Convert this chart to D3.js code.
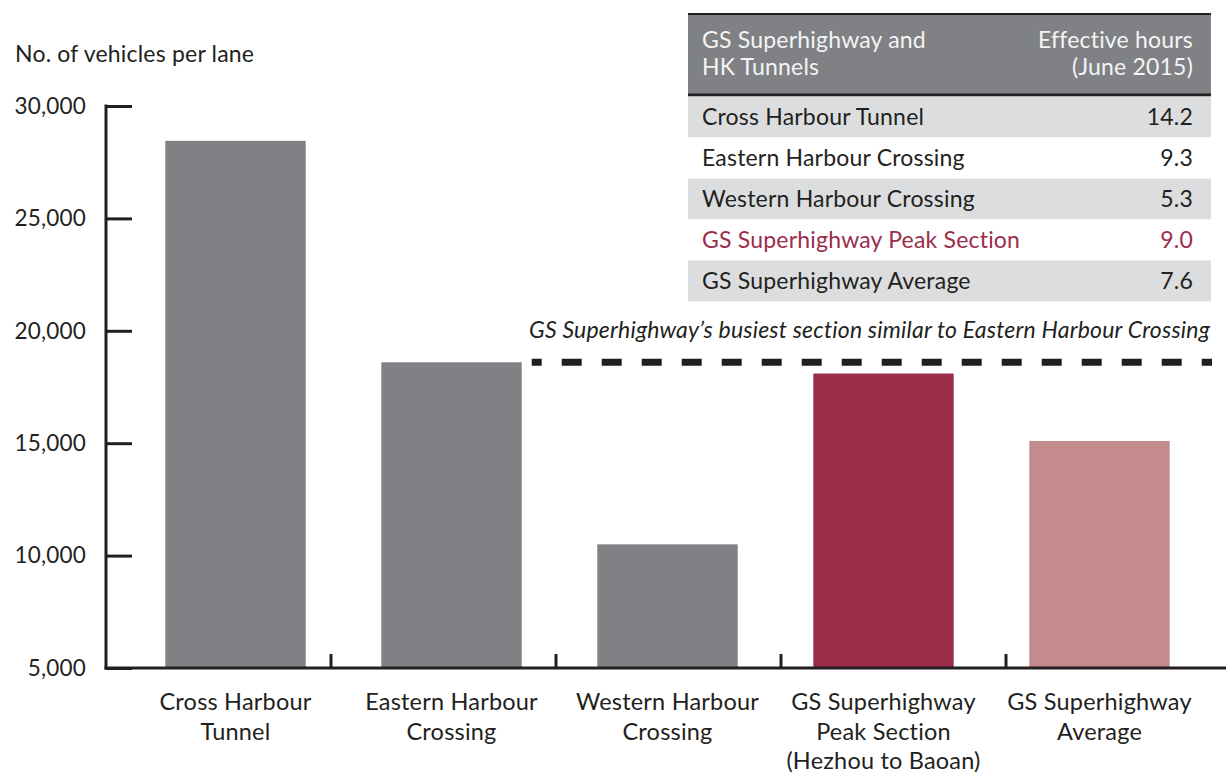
<!DOCTYPE html>
<html><head><meta charset="utf-8">
<script src="https://cdn.jsdelivr.net/npm/d3@7"></script>
<style>
html,body{margin:0;padding:0;background:#fff;}
svg text{font-family:Lato,"Open Sans",sans-serif;letter-spacing:0.2px;}
</style></head>
<body><svg id="c" width="1226" height="773"></svg>
<script>
const categories = ["Cross Harbour Tunnel","Eastern Harbour Crossing","Western Harbour Crossing","GS Superhighway Peak Section (Hezhou to Baoan)","GS Superhighway Average"];
const categoryLabelLines = [["Cross Harbour","Tunnel"],["Eastern Harbour","Crossing"],["Western Harbour","Crossing"],["GS Superhighway","Peak Section","(Hezhou to Baoan)"],["GS Superhighway","Average"]];
const vehiclesPerLane = [28450, 18600, 10500, 18100, 15100];
const barColors = ["#808184","#808184","#808184","#9b2d4b","#c48b8c"];
const yTicks = [5000,10000,15000,20000,25000,30000];
const referenceValue = 18600;
const annotation = "GS Superhighway\u2019s busiest section similar to Eastern Harbour Crossing";
const tableHeader = [["GS Superhighway and","HK Tunnels"],["Effective hours","(June 2015)"]];
const tableNames = ["Cross Harbour Tunnel","Eastern Harbour Crossing","Western Harbour Crossing","GS Superhighway Peak Section","GS Superhighway Average"];
const tableHours = ["14.2","9.3","5.3","9.0","7.6"];
const highlightRow = 3;

const svg = d3.select("#c");
const ink = "#231f20";
const y = d3.scaleLinear().domain([5000,30000]).range([668,106]);
const x = d3.scaleBand().domain(categories).range([127.5,1207.5]).paddingInner(0.35).paddingOuter(0.175);
const xDiv = d3.scaleBand().domain(categories).range([106,1231]);

// bars
svg.append("g").selectAll("rect").data(categories).join("rect")
  .attr("x", d=>x(d)).attr("width", x.bandwidth())
  .attr("y", (d,i)=>y(vehiclesPerLane[i]))
  .attr("height", (d,i)=>y(5000)-y(vehiclesPerLane[i]))
  .attr("fill", (d,i)=>barColors[i]);

// y axis
const yAxis = svg.append("g").attr("transform","translate(106,0)")
  .call(d3.axisRight(y).tickValues(yTicks).tickSize(26).tickFormat(""));
yAxis.select(".domain").remove();
yAxis.selectAll(".tick line").attr("stroke",ink).attr("stroke-width",3);
svg.append("line").attr("x1",106).attr("x2",106).attr("y1",y(30000)-1.5).attr("y2",y(5000)+1.5)
  .attr("stroke",ink).attr("stroke-width",3);
svg.append("g").selectAll("text").data(yTicks).join("text")
  .attr("x",86).attr("y",d=>y(d)).attr("dy","0.35em").attr("text-anchor","end")
  .attr("font-size",22.5).attr("fill",ink).text(d3.format(","));

svg.append("text").attr("x",15).attr("y",62).attr("font-size",23).attr("fill",ink).text("No. of vehicles per lane");

// x axis
svg.append("line").attr("x1",104.5).attr("x2",1226).attr("y1",y(5000)).attr("y2",y(5000))
  .attr("stroke",ink).attr("stroke-width",3);
svg.append("g").selectAll("line").data(categories.slice(1)).join("line")
  .attr("x1",d=>xDiv(d)).attr("x2",d=>xDiv(d))
  .attr("y1",y(5000)-14).attr("y2",y(5000)).attr("stroke",ink).attr("stroke-width",3);

const lab = svg.append("g").selectAll("text").data(categories).join("text")
  .attr("text-anchor","middle").attr("font-size",23.5).attr("fill",ink);
lab.each(function(d,i){
  const t = d3.select(this);
  categoryLabelLines[i].forEach((line,k)=>{
    t.append("tspan").attr("x", x(d)+x.bandwidth()/2).attr("y", 710 + k*29.5).text(line);
  });
});

// reference dashed line
svg.append("line")
  .attr("x1", x(categories[1])+x.bandwidth()+10).attr("x2",1212)
  .attr("y1", y(referenceValue)).attr("y2", y(referenceValue))
  .attr("stroke",ink).attr("stroke-width",7)
  .attr("stroke-dasharray","20 20").attr("stroke-dashoffset",10);
svg.append("text").attr("x",1210).attr("y",338).attr("text-anchor","end")
  .attr("font-size",23).attr("font-style","italic").attr("fill",ink).text(annotation);

// table
const tx0 = 688, tx1 = 1211, rowH = 41, rowTop = 96.5;
svg.append("rect").attr("x",tx0).attr("y",13).attr("width",tx1-tx0).attr("height",83).attr("fill","#808184");
svg.append("line").attr("x1",tx0).attr("x2",tx1).attr("y1",14).attr("y2",14).attr("stroke",ink).attr("stroke-width",2);
svg.append("line").attr("x1",tx0).attr("x2",tx1).attr("y1",95).attr("y2",95).attr("stroke",ink).attr("stroke-width",3);
tableHeader[0].forEach((l,k)=>svg.append("text").attr("x",702).attr("y",48+k*27).attr("font-size",23).attr("fill","#f4f4f4").text(l));
tableHeader[1].forEach((l,k)=>svg.append("text").attr("x",1193).attr("y",48+k*27).attr("text-anchor","end").attr("font-size",23).attr("fill","#f4f4f4").text(l));
const rows = svg.append("g").selectAll("g").data(tableNames).join("g")
  .attr("transform",(d,i)=>`translate(0,${rowTop+i*rowH})`);
rows.append("rect").attr("x",tx0).attr("width",tx1-tx0).attr("height",rowH)
  .attr("fill",(d,i)=>i%2===0?"#dcdddf":"#ffffff");
rows.append("text").attr("x",702).attr("y",rowH/2).attr("dy","0.35em").attr("font-size",23)
  .attr("fill",(d,i)=>i===highlightRow?"#9b2d4b":ink).text(d=>d);
rows.append("text").attr("x",1193).attr("y",rowH/2).attr("dy","0.35em").attr("text-anchor","end").attr("font-size",23)
  .attr("fill",(d,i)=>i===highlightRow?"#9b2d4b":ink).text((d,i)=>tableHours[i]);
</script></body></html>
